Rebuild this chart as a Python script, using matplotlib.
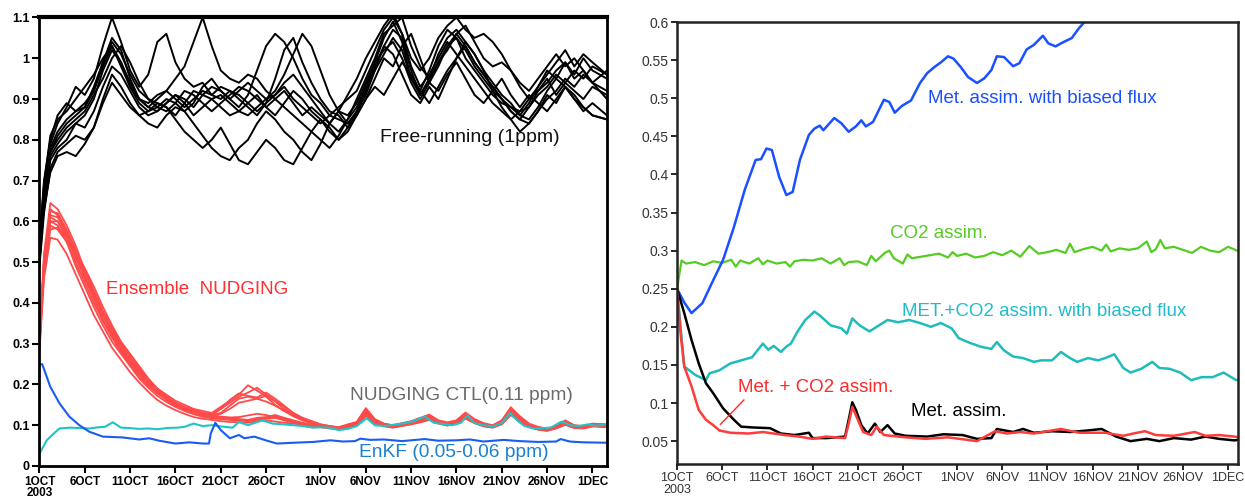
import matplotlib.pyplot as plt

plt.rcParams['font.family'] = ['Liberation Sans', 'DejaVu Sans']

# ---- time axis (days since 1 Oct 2003) ----
tick_days = [0, 5, 10, 15, 20, 25, 31, 36, 41, 46, 51, 56, 61]
tick_labels = ['1OCT\n2003', '6OCT', '11OCT', '16OCT', '21OCT', '26OCT',
               '1NOV', '6NOV', '11NOV', '16NOV', '21NOV', '26NOV', '1DEC']

# ---- left panel: ensembles (shared day grid) ----
ens_days = [0, 0.5, 1.2] + list(range(2, 62)) + [62.6]

free_run = [
    [0.52, 0.68, 0.79, 0.84, 0.88, 0.93, 0.91, 0.95, 1.03, 1.10,
     1.04, 0.97, 0.93, 0.96, 1.04, 1.06, 0.99, 0.95, 0.93, 0.94,
     0.91, 0.93, 0.92, 0.90, 0.88, 0.86, 0.89, 0.95, 1.02, 1.05,
     0.99, 0.94, 0.90, 0.87, 0.86, 0.83, 0.87, 0.93, 0.99, 1.05,
     1.09, 1.04, 0.95, 0.92, 0.97, 1.03, 1.07, 1.05, 1.00, 0.97,
     0.94, 0.91, 0.89, 0.88, 0.86, 0.89, 0.93, 0.97, 0.95, 0.99,
     0.96, 1.00, 0.97, 0.95],
    [0.50, 0.64, 0.75, 0.78, 0.80, 0.84, 0.86, 0.90, 0.97, 1.02,
     0.99, 0.93, 0.90, 0.88, 0.90, 0.92, 0.95, 0.98, 1.04, 1.10,
     1.03, 0.97, 0.95, 0.94, 0.96, 0.95, 0.92, 0.90, 0.88, 0.86,
     0.84, 0.82, 0.80, 0.78, 0.81, 0.85, 0.90, 0.95, 1.00, 1.06,
     1.08, 1.10, 1.03, 0.98, 0.95, 0.99, 1.02, 1.06, 1.08, 1.04,
     1.00, 0.98, 0.99, 0.97, 0.93, 0.90, 0.92, 0.94, 0.97, 0.99,
     0.95, 0.97, 0.94, 0.92],
    [0.53, 0.63, 0.72, 0.76, 0.77, 0.76, 0.79, 0.83, 0.90, 0.96,
     0.93, 0.89, 0.86, 0.84, 0.83, 0.86, 0.88, 0.87, 0.84, 0.81,
     0.78, 0.76, 0.75, 0.78, 0.80, 0.84, 0.87, 0.85, 0.82, 0.80,
     0.77, 0.75, 0.79, 0.84, 0.87, 0.84, 0.86, 0.92, 0.98, 1.03,
     1.01, 0.96, 0.91, 0.89, 0.93, 0.90, 0.95, 1.00, 1.04, 1.01,
     0.97, 0.92, 0.88, 0.85, 0.82, 0.84, 0.87, 0.91, 0.89, 0.93,
     0.91, 0.88, 0.86, 0.85],
    [0.51, 0.67, 0.78, 0.82, 0.85, 0.87, 0.89, 0.92, 0.99, 1.05,
     1.02, 0.95, 0.90, 0.88, 0.87, 0.89, 0.91, 0.90, 0.88, 0.91,
     0.93, 0.92, 0.90, 0.88, 0.91, 0.97, 1.03, 1.06, 1.04, 1.00,
     0.95, 0.91, 0.89, 0.86, 0.88, 0.90, 0.92, 0.97, 1.02, 1.07,
     1.10, 1.06, 0.98, 0.93, 0.96, 1.00, 1.04, 1.01, 0.98, 0.95,
     0.92, 0.89, 0.87, 0.85, 0.87, 0.90, 0.93, 0.96, 0.99, 1.02,
     0.98, 1.01, 0.99, 0.96],
    [0.55, 0.70, 0.80, 0.86, 0.89, 0.87, 0.88, 0.93, 0.99, 1.04,
     1.01, 0.96, 0.92, 0.90, 0.89, 0.88, 0.86, 0.89, 0.92, 0.91,
     0.90, 0.91, 0.89, 0.87, 0.86, 0.88, 0.90, 0.92, 0.96, 1.01,
     1.06, 1.03, 0.97, 0.91, 0.87, 0.86, 0.89, 0.94, 0.99, 1.02,
     1.04, 1.00, 0.94, 0.90, 0.94, 0.98, 1.03, 1.06, 1.03, 0.99,
     0.96, 0.93, 0.90, 0.87, 0.85, 0.84, 0.87, 0.90, 0.92, 0.95,
     0.93, 0.96, 0.94, 0.97],
    [0.49, 0.62, 0.73, 0.77, 0.79, 0.81, 0.80, 0.83, 0.89, 0.94,
     0.91, 0.88, 0.86, 0.87, 0.89, 0.88, 0.85, 0.82, 0.80, 0.78,
     0.80, 0.83, 0.79, 0.75, 0.74, 0.77, 0.80, 0.78, 0.75, 0.74,
     0.78, 0.82, 0.85, 0.83, 0.80, 0.82, 0.86, 0.90, 0.95, 1.00,
     0.98, 1.03, 1.06, 1.00, 0.94, 0.92, 0.96, 0.99, 0.95, 0.91,
     0.89, 0.92, 0.95, 0.91, 0.88, 0.91, 0.89, 0.87, 0.90, 0.93,
     0.90, 0.87, 0.89, 0.86],
    [0.52, 0.66, 0.77, 0.81, 0.84, 0.86, 0.88, 0.92, 0.98, 1.03,
     0.99, 0.94, 0.90, 0.89, 0.91, 0.92, 0.90, 0.88, 0.90, 0.92,
     0.91, 0.90, 0.92, 0.91, 0.89, 0.87, 0.89, 0.91, 0.93, 0.90,
     0.88, 0.86, 0.84, 0.86, 0.85, 0.84, 0.87, 0.91, 0.97, 1.03,
     1.07, 1.05, 0.97, 0.91, 0.94, 0.99, 1.03, 1.05, 1.02, 0.98,
     0.95, 0.92, 0.90, 0.88, 0.87, 0.88, 0.91, 0.93, 0.96, 0.94,
     0.97, 0.95, 0.98, 0.96],
    [0.54, 0.69, 0.81, 0.85, 0.87, 0.90, 0.93, 0.96, 1.00, 1.03,
     0.98, 0.93, 0.89, 0.87, 0.88, 0.90, 0.89, 0.87, 0.89, 0.93,
     0.95, 0.92, 0.90, 0.92, 0.94, 0.92, 0.90, 0.91, 0.94, 0.96,
     0.93, 0.90, 0.87, 0.84, 0.87, 0.91, 0.95, 1.00, 1.04, 1.08,
     1.11, 1.06, 1.00, 0.97, 1.00, 1.05, 1.08, 1.10, 1.07, 1.05,
     1.06, 1.04, 1.01, 0.97, 0.94, 0.92, 0.95, 0.98, 1.01, 0.98,
     1.00, 0.97, 0.94, 0.90],
    [0.50, 0.65, 0.76, 0.79, 0.82, 0.84, 0.83, 0.87, 0.93, 0.98,
     0.96, 0.92, 0.88, 0.86, 0.87, 0.89, 0.91, 0.89, 0.86, 0.88,
     0.90, 0.88, 0.86, 0.87, 0.89, 0.91, 0.88, 0.86, 0.89, 0.92,
     0.90, 0.87, 0.85, 0.82, 0.80, 0.83, 0.86, 0.90, 0.93, 0.91,
     0.95, 0.99, 0.96, 0.92, 0.89, 0.93, 0.97, 1.00, 1.03, 0.99,
     0.96, 0.93, 0.90, 0.87, 0.85, 0.88, 0.92, 0.95, 0.91, 0.94,
     0.92, 0.90, 0.93, 0.91],
    [0.53, 0.66, 0.77, 0.80, 0.83, 0.85, 0.87, 0.91, 0.95, 1.00,
     1.03, 0.99, 0.94, 0.90, 0.88, 0.87, 0.89, 0.92, 0.91, 0.89,
     0.87, 0.89, 0.91, 0.93, 0.92, 0.90, 0.88, 0.90, 0.92, 0.89,
     0.86, 0.88, 0.86, 0.84, 0.82, 0.85, 0.88, 0.93, 0.97, 1.01,
     1.05, 1.02, 0.95, 0.91, 0.95, 1.01, 1.05, 1.07, 1.04, 1.01,
     0.97, 0.94, 0.91, 0.89, 0.86, 0.85, 0.88, 0.92, 0.95, 0.93,
     0.90, 0.88, 0.86, 0.85],
]

nudging = [
    [0.30, 0.52, 0.645, 0.63, 0.59, 0.54, 0.48, 0.43, 0.38, 0.34,
     0.30, 0.27, 0.24, 0.21, 0.19, 0.175, 0.16, 0.15, 0.14, 0.135,
     0.13, 0.145, 0.16, 0.175, 0.198, 0.185, 0.17, 0.15, 0.135, 0.125,
     0.115, 0.108, 0.10, 0.097, 0.095, 0.102, 0.108, 0.142, 0.115, 0.104,
     0.10, 0.105, 0.11, 0.118, 0.126, 0.112, 0.107, 0.112, 0.131, 0.115,
     0.105, 0.10, 0.112, 0.144, 0.122, 0.104, 0.096, 0.092, 0.098, 0.112,
     0.10, 0.098, 0.104, 0.102],
    [0.29, 0.50, 0.615, 0.61, 0.57, 0.52, 0.47, 0.42, 0.37, 0.33,
     0.29, 0.26, 0.23, 0.205, 0.185, 0.168, 0.155, 0.145, 0.138, 0.13,
     0.125, 0.14, 0.155, 0.17, 0.18, 0.192, 0.175, 0.16, 0.145, 0.13,
     0.118, 0.11, 0.102, 0.098, 0.094, 0.10, 0.105, 0.135, 0.112, 0.103,
     0.098, 0.103, 0.108, 0.115, 0.122, 0.11, 0.104, 0.11, 0.127, 0.112,
     0.102, 0.098, 0.108, 0.139, 0.118, 0.10, 0.094, 0.09, 0.096, 0.108,
     0.098, 0.096, 0.101, 0.10],
    [0.30, 0.49, 0.60, 0.60, 0.56, 0.51, 0.46, 0.41, 0.36, 0.32,
     0.285, 0.255, 0.225, 0.20, 0.18, 0.165, 0.15, 0.14, 0.132, 0.128,
     0.125, 0.13, 0.148, 0.165, 0.17, 0.165, 0.172, 0.158, 0.14, 0.125,
     0.115, 0.107, 0.10, 0.096, 0.092, 0.098, 0.104, 0.13, 0.11, 0.10,
     0.097, 0.101, 0.106, 0.112, 0.119, 0.108, 0.102, 0.108, 0.124, 0.11,
     0.10, 0.097, 0.106, 0.134, 0.115, 0.098, 0.092, 0.089, 0.095, 0.106,
     0.096, 0.095, 0.10, 0.098],
    [0.30, 0.50, 0.59, 0.58, 0.55, 0.50, 0.45, 0.40, 0.355, 0.315,
     0.28, 0.25, 0.22, 0.197, 0.178, 0.162, 0.148, 0.138, 0.13, 0.125,
     0.12, 0.128, 0.14, 0.155, 0.16, 0.165, 0.158, 0.148, 0.135, 0.122,
     0.112, 0.105, 0.099, 0.095, 0.093, 0.097, 0.103, 0.128, 0.108, 0.101,
     0.096, 0.10, 0.105, 0.11, 0.117, 0.107, 0.101, 0.106, 0.12, 0.108,
     0.099, 0.096, 0.105, 0.13, 0.112, 0.097, 0.091, 0.088, 0.094, 0.104,
     0.095, 0.094, 0.099, 0.097],
    [0.29, 0.48, 0.58, 0.585, 0.56, 0.525, 0.485, 0.44, 0.39, 0.345,
     0.305, 0.275, 0.245, 0.215, 0.19, 0.17, 0.155, 0.143, 0.133, 0.125,
     0.12, 0.118, 0.116, 0.114, 0.112, 0.115, 0.118, 0.122, 0.117, 0.11,
     0.105, 0.10, 0.097, 0.094, 0.091, 0.096, 0.102, 0.126, 0.106, 0.099,
     0.095, 0.099, 0.103, 0.108, 0.115, 0.105, 0.10, 0.104, 0.118, 0.106,
     0.098, 0.095, 0.103, 0.128, 0.11, 0.096, 0.09, 0.087, 0.093, 0.102,
     0.094, 0.093, 0.098, 0.096],
    [0.28, 0.46, 0.56, 0.555, 0.52, 0.47, 0.42, 0.37, 0.33, 0.29,
     0.26, 0.23, 0.205, 0.182, 0.162, 0.148, 0.137, 0.128, 0.12, 0.116,
     0.113, 0.11, 0.108, 0.107, 0.106, 0.11, 0.112, 0.109, 0.106, 0.104,
     0.101, 0.098, 0.095, 0.092, 0.09, 0.095, 0.10, 0.122, 0.104, 0.097,
     0.094, 0.098, 0.102, 0.107, 0.113, 0.104, 0.099, 0.103, 0.116, 0.105,
     0.097, 0.094, 0.102, 0.125, 0.108, 0.095, 0.089, 0.086, 0.092, 0.101,
     0.093, 0.092, 0.097, 0.095],
    [0.30, 0.51, 0.625, 0.62, 0.58, 0.53, 0.475, 0.425, 0.375, 0.335,
     0.30, 0.265, 0.235, 0.21, 0.188, 0.17, 0.155, 0.143, 0.135, 0.128,
     0.122, 0.12, 0.118, 0.115, 0.113, 0.118, 0.12, 0.125, 0.118, 0.112,
     0.106, 0.102, 0.098, 0.095, 0.093, 0.099, 0.106, 0.138, 0.113, 0.103,
     0.099, 0.104, 0.109, 0.116, 0.124, 0.111, 0.105, 0.111, 0.129, 0.113,
     0.103, 0.099, 0.11, 0.141, 0.12, 0.102, 0.095, 0.091, 0.097, 0.11,
     0.099, 0.097, 0.103, 0.101],
    [0.29, 0.49, 0.60, 0.59, 0.55, 0.49, 0.44, 0.39, 0.345, 0.305,
     0.275, 0.245, 0.215, 0.192, 0.172, 0.157, 0.145, 0.135, 0.127, 0.121,
     0.117, 0.115, 0.113, 0.111, 0.11, 0.113, 0.116, 0.118, 0.112, 0.107,
     0.103, 0.099, 0.096, 0.093, 0.092, 0.097, 0.104, 0.132, 0.109, 0.10,
     0.096, 0.10, 0.104, 0.111, 0.119, 0.108, 0.102, 0.107, 0.122, 0.109,
     0.10, 0.096, 0.106, 0.133, 0.114, 0.098, 0.092, 0.089, 0.095, 0.105,
     0.096, 0.095, 0.10, 0.099],
    [0.31, 0.50, 0.61, 0.60, 0.565, 0.515, 0.465, 0.415, 0.37, 0.325,
     0.29, 0.262, 0.232, 0.207, 0.186, 0.168, 0.152, 0.141, 0.133, 0.127,
     0.123, 0.121, 0.119, 0.12, 0.124, 0.128, 0.125, 0.119, 0.114, 0.108,
     0.104, 0.10, 0.097, 0.095, 0.093, 0.098, 0.104, 0.133, 0.11, 0.101,
     0.097, 0.101, 0.106, 0.113, 0.121, 0.109, 0.103, 0.109, 0.125, 0.111,
     0.101, 0.097, 0.107, 0.136, 0.116, 0.099, 0.093, 0.09, 0.096, 0.107,
     0.097, 0.096, 0.101, 0.10],
    [0.30, 0.50, 0.63, 0.615, 0.575, 0.525, 0.47, 0.42, 0.37, 0.33,
     0.295, 0.26, 0.23, 0.205, 0.183, 0.166, 0.152, 0.142, 0.135, 0.13,
     0.128, 0.14, 0.162, 0.178, 0.172, 0.168, 0.18, 0.165, 0.148, 0.13,
     0.118, 0.11, 0.102, 0.098, 0.095, 0.10, 0.107, 0.139, 0.113, 0.103,
     0.099, 0.103, 0.108, 0.114, 0.123, 0.11, 0.104, 0.11, 0.128, 0.112,
     0.102, 0.098, 0.109, 0.14, 0.119, 0.101, 0.094, 0.09, 0.097, 0.109,
     0.098, 0.096, 0.102, 0.101],
]

ctl_days = [0, 0.8, 1.6, 2.2, 3.3, 4.5, 5.5, 6.5, 7.2, 8.1, 9, 10, 11, 12, 13,
            14, 15.2, 16, 17, 18, 19, 20, 21.3, 22, 23, 23.5, 24.6, 25.7, 27, 28,
            29, 30.2, 31, 32, 33, 34, 35, 36.1, 37, 38, 39, 40, 41, 42.5, 43.5,
            44.5, 45.5, 46.5, 47.2, 48, 49, 50, 51, 51.9, 52.8, 53.5, 54.6, 55.5,
            56.4, 57.6, 58.5, 59.5, 60.5, 61.5, 62.6]
ctl_vals = [0.03, 0.063, 0.08, 0.092, 0.094, 0.093, 0.092, 0.095, 0.096, 0.107,
            0.094, 0.093, 0.091, 0.092, 0.09, 0.093, 0.094, 0.096, 0.104, 0.098,
            0.1, 0.097, 0.094, 0.108, 0.1, 0.104, 0.112, 0.104, 0.102, 0.1,
            0.098, 0.094, 0.095, 0.094, 0.088, 0.091, 0.098, 0.117, 0.1, 0.098,
            0.101, 0.104, 0.108, 0.121, 0.106, 0.103, 0.1, 0.106, 0.124, 0.105,
            0.1, 0.097, 0.105, 0.13, 0.11, 0.098, 0.092, 0.093, 0.094, 0.109,
            0.1, 0.098, 0.102, 0.099, 0.102]

enkf_days = [0, 0.3, 1.2, 2.2, 3.3, 4.4, 5.5, 7, 9.2, 11, 12.1, 13.2, 15, 16.5,
             18.1, 18.7, 18.9, 19.4, 20, 21, 22, 22.6, 23.7, 25.1, 26.2, 28,
             30.2, 32.1, 33.5, 34.8, 35.4, 36.5, 38, 40, 42.5, 44, 46, 47.5, 49,
             51.2, 53, 55, 57, 57.5, 58.5, 60, 62.6]
enkf_vals = [0.248, 0.25, 0.194, 0.154, 0.121, 0.1, 0.084, 0.072, 0.07, 0.065,
             0.068, 0.062, 0.055, 0.058, 0.055, 0.055, 0.08, 0.106, 0.088, 0.068,
             0.076, 0.068, 0.072, 0.062, 0.055, 0.057, 0.059, 0.063, 0.06, 0.061,
             0.067, 0.064, 0.065, 0.061, 0.066, 0.062, 0.063, 0.065, 0.06, 0.064,
             0.061, 0.059, 0.06, 0.066, 0.06, 0.058, 0.057]

# ---- right panel ----
bias_days = [0, 0.8, 1.6, 2.8, 4.0, 5.1, 6.3, 7.5, 8.7, 9.3, 9.9, 10.5, 11.3,
             12.1, 12.8, 13.6, 14.6, 15.2, 15.8, 16.2, 17.4, 18.2, 19.0, 19.8,
             20.4, 20.9, 21.7, 22.9, 23.5, 24.1, 24.9, 25.9, 26.9, 27.7, 28.5,
             29.2, 30.0, 30.6, 31.4, 32.2, 33.2, 34.0, 34.8, 35.4, 36.2, 37.2,
             37.9, 38.7, 39.5, 40.5, 41.1, 41.9, 42.5, 43.7, 44.5, 45.1, 46.5, 48.0]
bias_vals = [0.25, 0.232, 0.218, 0.231, 0.261, 0.288, 0.331, 0.38, 0.419, 0.42,
             0.434, 0.432, 0.397, 0.373, 0.377, 0.419, 0.452, 0.46, 0.464, 0.458,
             0.474, 0.467, 0.456, 0.463, 0.471, 0.463, 0.469, 0.498, 0.495, 0.481,
             0.49, 0.497, 0.52, 0.533, 0.541, 0.547, 0.555, 0.552, 0.541, 0.528,
             0.52, 0.526, 0.537, 0.555, 0.554, 0.542, 0.546, 0.564, 0.57, 0.582,
             0.572, 0.568, 0.572, 0.579, 0.592, 0.60, 0.615, 0.63]

co2_days = [0, 0.5, 1, 2, 3, 4, 5, 6, 6.5, 7, 8, 9, 9.5, 10, 11, 12, 12.5, 13,
            14, 15, 16, 17, 18, 18.5, 19, 20, 21, 21.5, 22, 23, 23.5, 24, 25,
            25.5, 26, 27, 28, 29, 30, 30.5, 31, 32, 33, 34, 35, 36, 37, 38, 39,
            40, 41, 42, 43, 43.5, 44, 45, 46, 47, 47.5, 48, 49, 50, 51, 52, 52.5,
            53, 53.5, 54, 55, 56, 57, 58, 59, 60, 61, 62.2]
co2_vals = [0.25, 0.287, 0.283, 0.285, 0.281, 0.286, 0.284, 0.288, 0.279, 0.287,
            0.283, 0.29, 0.282, 0.287, 0.283, 0.285, 0.279, 0.286, 0.288, 0.287,
            0.29, 0.283, 0.29, 0.281, 0.285, 0.286, 0.281, 0.293, 0.286, 0.297,
            0.3, 0.29, 0.283, 0.295, 0.29, 0.292, 0.294, 0.296, 0.291, 0.298,
            0.293, 0.296, 0.291, 0.293, 0.298, 0.294, 0.3, 0.292, 0.306, 0.296,
            0.298, 0.301, 0.297, 0.309, 0.298, 0.302, 0.305, 0.3, 0.308, 0.299,
            0.303, 0.301, 0.303, 0.312, 0.298, 0.302, 0.314, 0.303, 0.305, 0.301,
            0.297, 0.305, 0.3, 0.298, 0.305, 0.299]

metco2b_days = [0, 0.8, 2.0, 3.2, 3.6, 4.7, 5.9, 7.1, 8.3, 9.5, 10.1, 10.7, 11.5,
                12.1, 12.6, 13.4, 14.2, 15.2, 15.8, 17.0, 18.2, 18.8, 19.4, 20.2,
                21.3, 22.1, 23.3, 24.5, 25.7, 26.9, 28.1, 29.2, 30.4, 31.2, 32.4,
                33.6, 34.8, 35.4, 36.2, 37.2, 38.3, 39.5, 40.3, 41.5, 42.5, 43.5,
                44.3, 45.5, 46.6, 47.4, 48.4, 49.4, 50.2, 51.4, 52.6, 53.4, 54.5,
                55.7, 56.9, 58.1, 59.3, 60.5, 61.9, 62.3]
metco2b_vals = [0.25, 0.148, 0.137, 0.13, 0.139, 0.143, 0.152, 0.156, 0.16, 0.178,
                0.17, 0.175, 0.167, 0.174, 0.178, 0.195, 0.209, 0.22, 0.215, 0.202,
                0.198, 0.191, 0.211, 0.202, 0.194, 0.2, 0.209, 0.206, 0.209, 0.205,
                0.2, 0.205, 0.198, 0.185, 0.179, 0.174, 0.171, 0.18, 0.169, 0.161,
                0.159, 0.154, 0.156, 0.156, 0.167, 0.159, 0.154, 0.159, 0.156, 0.159,
                0.164, 0.146, 0.14, 0.145, 0.154, 0.146, 0.145, 0.14, 0.13, 0.134,
                0.134, 0.14, 0.13, 0.132]

met_days = [0, 0.8, 1.6, 2.4, 3.2, 4.0, 5.1, 6.3, 7.1, 8.3, 10.3, 11.5, 13.0, 14.6,
            15.0, 16.6, 18.6, 19.0, 19.4, 19.8, 20.4, 21.1, 21.9, 22.5, 23.3, 24.1,
            25.3, 27.7, 29.5, 31.6, 33.2, 34.8, 35.4, 37.2, 38.3, 39.5, 41.5, 43.5,
            45.5, 47.0, 48.6, 50.2, 52.0, 53.4, 55.0, 56.9, 58.5, 60.0, 61.7, 62.3]
met_vals = [0.25, 0.218, 0.183, 0.152, 0.126, 0.113, 0.093, 0.078, 0.069, 0.068,
            0.067, 0.06, 0.058, 0.061, 0.054, 0.054, 0.056, 0.078, 0.101, 0.091,
            0.071, 0.06, 0.073, 0.062, 0.071, 0.06, 0.057, 0.056, 0.059, 0.058,
            0.053, 0.054, 0.066, 0.062, 0.066, 0.061, 0.063, 0.062, 0.064, 0.066,
            0.056, 0.05, 0.053, 0.05, 0.054, 0.052, 0.056, 0.053, 0.051, 0.052]

metco2_days = [0, 0.4, 0.8, 1.6, 2.4, 3.2, 4.0, 4.7, 5.9, 7.9, 9.5, 11.9, 13.5,
               15.0, 16.5, 18.6, 19.0, 19.4, 19.8, 20.6, 21.5, 22.1, 22.9, 25.3,
               27.5, 30.0, 33.2, 35.2, 36.5, 38.0, 39.5, 41.0, 42.5, 44.5, 47.4,
               49.4, 50.5, 51.8, 53.0, 55.0, 57.3, 58.5, 60.0, 61.7, 62.3]
metco2_vals = [0.25, 0.19, 0.148, 0.122, 0.091, 0.078, 0.071, 0.064, 0.061, 0.06,
               0.062, 0.058, 0.056, 0.053, 0.056, 0.054, 0.073, 0.095, 0.084, 0.062,
               0.058, 0.069, 0.058, 0.055, 0.053, 0.055, 0.05, 0.063, 0.06, 0.062,
               0.06, 0.063, 0.066, 0.061, 0.061, 0.057, 0.06, 0.063, 0.058, 0.057,
               0.062, 0.057, 0.058, 0.056, 0.055]

fig = plt.figure(figsize=(12.45, 4.97), dpi=100)

# ---------------- left panel ----------------
ax1 = fig.add_axes([0.0317, 0.0624, 0.4558, 0.9024])
for m in free_run:
    ax1.plot(ens_days, m, color='black', lw=1.4)
for m in nudging:
    ax1.plot(ens_days, m, color='#ff4a4a', lw=1.3)
ax1.plot(ctl_days, ctl_vals, color='#1fc4c4', lw=1.5)
ax1.plot(enkf_days, enkf_vals, color='#1a5cf0', lw=1.5)

ax1.set_xlim(0, 62.6)
ax1.set_ylim(0, 1.1)
ax1.set_yticks([i / 10 for i in range(12)])
ax1.set_yticklabels(['0', '0.1', '0.2', '0.3', '0.4', '0.5', '0.6', '0.7',
                     '0.8', '0.9', '1', '1.1'], fontweight='bold', fontsize=9)
ax1.set_xticks(tick_days)
ax1.set_xticklabels(tick_labels, fontweight='bold', fontsize=8.5, linespacing=0.95)
ax1.tick_params(direction='out', length=5, width=1.5, pad=2)
for s in ax1.spines.values():
    s.set_linewidth(2)
ax1.spines['top'].set_linewidth(3)

ax1.text(37.6, 0.806, 'Free-running (1ppm)', fontsize=14, color='#111111', va='center')
ax1.text(7.3, 0.434, 'Ensemble  NUDGING', fontsize=13.5, color='#ff3030', va='center')
ax1.text(34.3, 0.172, 'NUDGING CTL(0.11 ppm)', fontsize=13.8, color='#6a6a6a', va='center')
ax1.text(35.3, 0.034, 'EnKF (0.05-0.06 ppm)', fontsize=13.8, color='#1a80d0', va='center')

# ---------------- right panel ----------------
ax2 = fig.add_axes([0.5438, 0.0664, 0.4506, 0.8893])
ax2.plot(co2_days, co2_vals, color='#55cc22', lw=1.6)
ax2.plot(bias_days, bias_vals, color='#1a50ff', lw=1.8)
ax2.plot(metco2b_days, metco2b_vals, color='#20bcbc', lw=1.8)
ax2.plot(met_days, met_vals, color='black', lw=1.8)
ax2.plot(metco2_days, metco2_vals, color='#ff3b3b', lw=1.8)

ax2.set_xlim(0, 62.1)
ax2.set_ylim(0.02, 0.6)
yt = [0.05, 0.1, 0.15, 0.2, 0.25, 0.3, 0.35, 0.4, 0.45, 0.5, 0.55, 0.6]
ax2.set_yticks(yt)
ax2.set_yticklabels(['0.05', '0.1', '0.15', '0.2', '0.25', '0.3', '0.35', '0.4',
                     '0.45', '0.5', '0.55', '0.6'], fontsize=10)
ax2.set_xticks(tick_days)
ax2.set_xticklabels(tick_labels, fontsize=9, linespacing=0.95)
ax2.tick_params(direction='out', length=4, width=1.2, labelcolor='#333333', pad=2)
for s in ax2.spines.values():
    s.set_linewidth(1.8)
    s.set_color('#222222')

ax2.text(27.8, 0.50, 'Met. assim. with biased flux', fontsize=13.5, color='#1a4fff', va='center')
ax2.text(23.6, 0.323, 'CO2 assim.', fontsize=13.5, color='#55cc22', va='center')
ax2.text(24.9, 0.22, 'MET.+CO2 assim. with biased flux', fontsize=13.5, color='#20bccc', va='center')
ax2.text(6.7, 0.12, 'Met. + CO2 assim.', fontsize=13.5, color='#ff2a2a', va='center')
ax2.text(25.9, 0.089, 'Met. assim.', fontsize=13.5, color='black', va='center')
ax2.plot([4.8, 7.4], [0.072, 0.104], color='#ff2a2a', lw=1.0)

fig.savefig('out.png', dpi=100)
